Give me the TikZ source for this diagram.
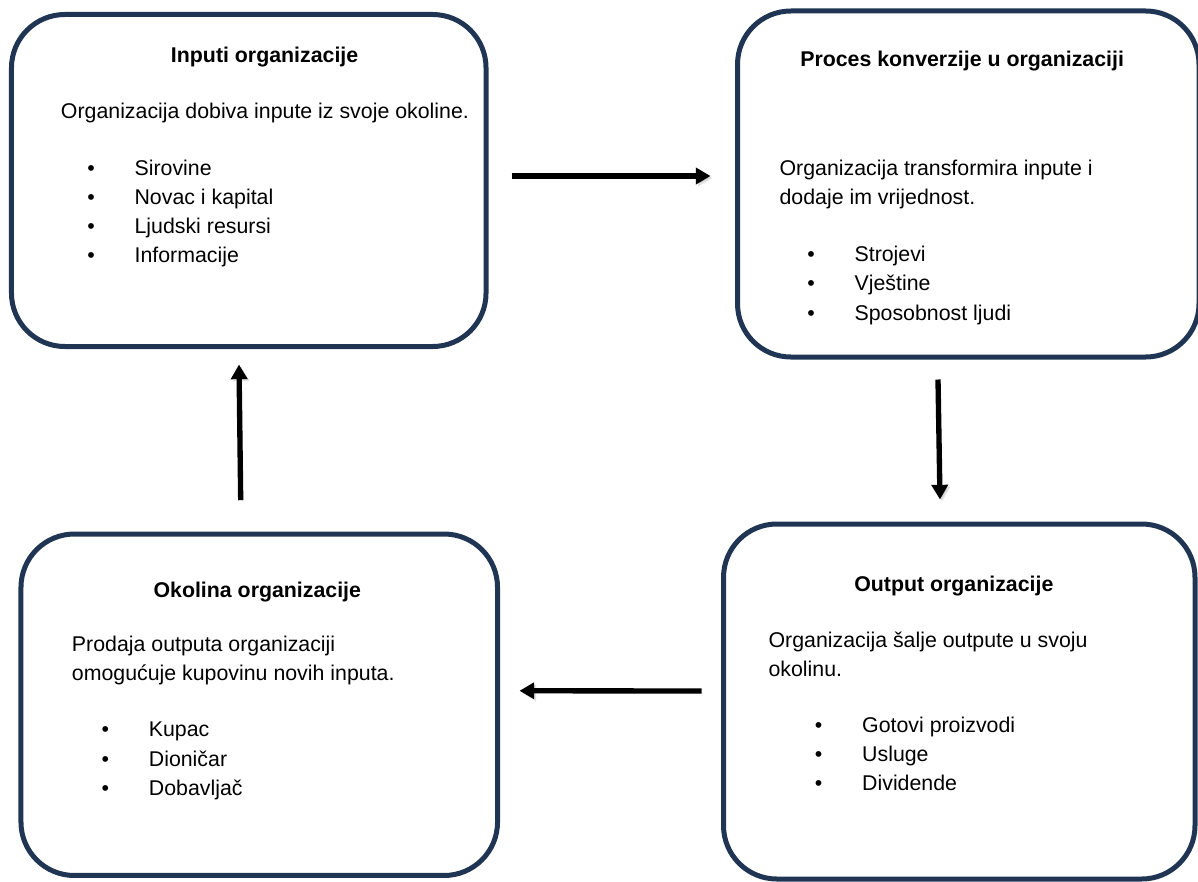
\documentclass[tikz,border=0pt]{standalone}
\usepackage{fontspec}
\setmainfont{Liberation Sans}
\usetikzlibrary{calc,arrows.meta}
\definecolor{boxblue}{HTML}{1F3553}
\newcommand{\bul}{\makebox[35.5pt][l]{•}}

\begin{document}
\begin{tikzpicture}[
 x=0.75pt, y=-0.75pt,
 >={Triangle[length=11pt,width=12pt]},
 font=\fontsize{16}{21.2}\selectfont,
 box/.style={draw=boxblue,line width=3.75pt,rounded corners=40pt,rectangle,inner sep=0pt},
 title/.style={anchor=base west,inner sep=0pt,font=\fontsize{16}{21.2}\selectfont\bfseries},
 body/.style={anchor=base west,inner sep=0pt,align=left},
 list/.style={anchor=base west,inner sep=0pt,align=left,font=\fontsize{16}{21.9}\selectfont},
 flow/.style={->,line width=4pt,preaction={draw=black!35,opacity=.35,transform canvas={shift={(1.5pt,-1.5pt)}}}}
]
\useasboundingbox (0,0) rectangle (1198,881);

\node (inputs-box) [box,minimum width=355.9pt,minimum height=249pt] at (248.75,180.5) {};
\node (process-box) [box,minimum width=346.1pt,minimum height=259.5pt] at (968.25,184) {};
\node (output-box) [box,minimum width=353.6pt,minimum height=266.25pt] at (959.25,701.5) {};
\node (environment-box) [box,minimum width=357.4pt,minimum height=256.1pt] at (259.25,704.75) {};

% multi-line nodes sit on the baseline of their last line
\node (inputs-title) [title] at (170.7,62.7) {Inputi organizacije};
\node (inputs-text) [body] at (60.7,118) {Organizacija dobiva inpute iz svoje okoline.};
\node (inputs-list) [list] at (87,262.7) {\bul Sirovine\\ \bul Novac i kapital\\ \bul Ljudski resursi\\ \bul Informacije};

\node (process-title) [title] at (800,66.7) {Proces konverzije u organizaciji};
\node (process-text) [body] at (779.3,204) {Organizacija transformira inpute i\\ dodaje im vrijednost.};
\node (process-list) [list] at (807,320) {\bul Strojevi\\ \bul Vještine\\ \bul Sposobnost ljudi};

\node (output-title) [title] at (854,591.7) {Output organizacije};
\node (output-text) [body] at (768.3,676) {Organizacija šalje outpute u svoju\\ okolinu.};
\node (output-list) [list] at (814.6,790.7) {\bul Gotovi proizvodi\\ \bul Usluge\\ \bul Dividende};

\node (environment-title) [title] at (153.3,597.3) {Okolina organizacije};
\node (environment-text) [body] at (71.7,680) {Prodaja outputa organizaciji\\ omogućuje kupovinu novih inputa.};
\node (environment-list) [list] at (101.3,795.3) {\bul Kupac\\ \bul Dioničar\\ \bul Dobavljač};

\draw[flow] ($(inputs-box.east)+(23,-4.5)$) -- ($(process-box.west)+(-24.5,-8)$);
\draw[flow] ($(process-box.south)+(-30.25,20)$) -- ($(output-box.north)+(-19.25,-22)$);
\draw[flow] ($(output-box.west)+(-19.5,-10.5)$) -- ($(environment-box.east)+(19.5,-14)$);
\draw[flow] ($(environment-box.north)+(-18.55,-31.3)$) -- ($(inputs-box.south)+(-9.75,15.5)$);
\end{tikzpicture}
\end{document}
